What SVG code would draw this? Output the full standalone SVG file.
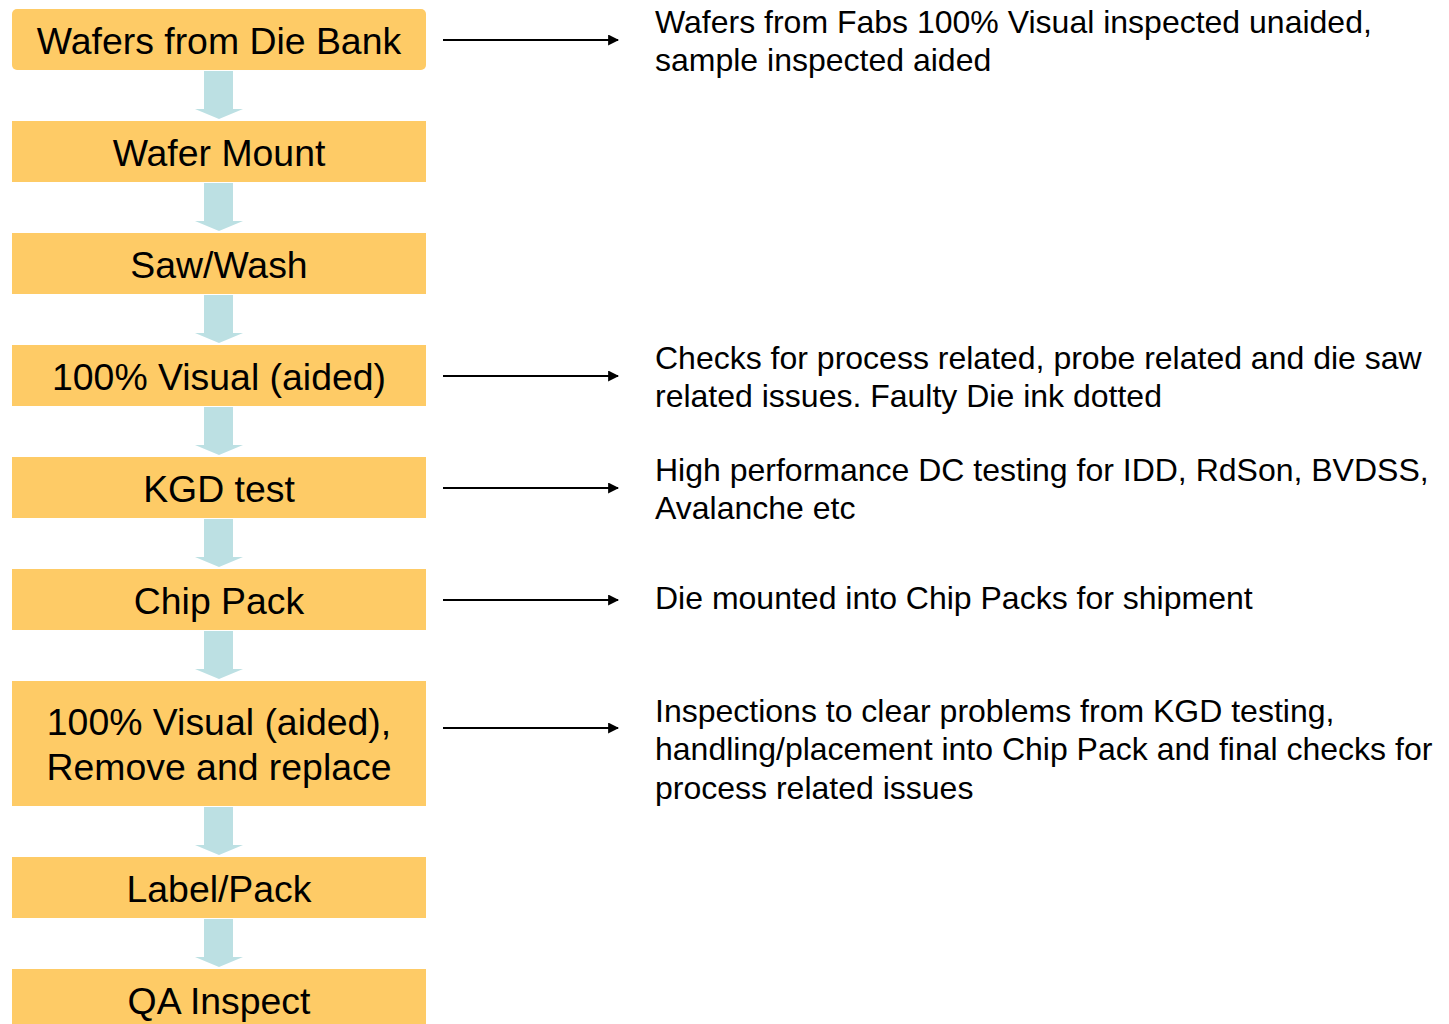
<svg xmlns="http://www.w3.org/2000/svg" width="1449" height="1024" viewBox="0 0 1449 1024">
  <defs>
    <style>
      .step { fill: #fecb66; }
      .step-text { font-family: "Liberation Sans", Arial, sans-serif; font-size: 37.4px; fill: #000; text-anchor: middle; }
      .note { font-family: "Liberation Sans", Arial, sans-serif; font-size: 32px; fill: #000; }
      .flow { fill: #bce0e3; }
      .pointer { stroke: #000; stroke-width: 2; fill: none; marker-end: url(#tip); }
    </style>
    <marker id="tip" viewBox="0 0 10 10" refX="9" refY="5" markerWidth="5.5" markerHeight="5.5" markerUnits="strokeWidth" orient="auto">
      <path d="M0,0 L10,5 L0,10 Z" fill="#000"/>
    </marker>
    <path id="down" d="M204,0 H233 V38 H243 L219,48 L195,38 H204 Z"/>
  </defs>

  <rect width="1449" height="1024" fill="#fff"/>

  <!-- process steps -->
  <g id="step-die-bank">
    <rect class="step" x="12" y="9" width="414" height="61" rx="5"/>
    <text class="step-text" x="219" y="54">Wafers from Die Bank</text>
  </g>
  <g id="step-wafer-mount">
    <rect class="step" x="12" y="121" width="414" height="61"/>
    <text class="step-text" x="219" y="166">Wafer Mount</text>
  </g>
  <g id="step-saw-wash">
    <rect class="step" x="12" y="233" width="414" height="61"/>
    <text class="step-text" x="219" y="278">Saw/Wash</text>
  </g>
  <g id="step-visual">
    <rect class="step" x="12" y="345" width="414" height="61"/>
    <text class="step-text" x="219" y="390">100% Visual (aided)</text>
  </g>
  <g id="step-kgd">
    <rect class="step" x="12" y="457" width="414" height="61"/>
    <text class="step-text" x="219" y="502">KGD test</text>
  </g>
  <g id="step-chip-pack">
    <rect class="step" x="12" y="569" width="414" height="61"/>
    <text class="step-text" x="219" y="614">Chip Pack</text>
  </g>
  <g id="step-visual-replace">
    <rect class="step" x="12" y="681" width="414" height="125"/>
    <text class="step-text" x="219" y="735">100% Visual (aided),</text>
    <text class="step-text" x="219" y="780">Remove and replace</text>
  </g>
  <g id="step-label-pack">
    <rect class="step" x="12" y="857" width="414" height="61"/>
    <text class="step-text" x="219" y="902">Label/Pack</text>
  </g>
  <g id="step-qa">
    <rect class="step" x="12" y="969" width="414" height="61"/>
    <text class="step-text" x="219" y="1014">QA Inspect</text>
  </g>

  <!-- notes -->
  <g id="note-die-bank">
    <text class="note" x="655" y="33">Wafers from Fabs 100% Visual inspected unaided,</text>
    <text class="note" x="655" y="71">sample inspected aided</text>
  </g>
  <g id="note-visual">
    <text class="note" x="655" y="369">Checks for process related, probe related and die saw</text>
    <text class="note" x="655" y="407">related issues. Faulty Die ink dotted</text>
  </g>
  <g id="note-kgd">
    <text class="note" x="655" y="481">High performance DC testing for IDD, RdSon, BVDSS,</text>
    <text class="note" x="655" y="519">Avalanche etc</text>
  </g>
  <g id="note-chip-pack">
    <text class="note" x="655" y="609">Die mounted into Chip Packs for shipment</text>
  </g>
  <g id="note-visual-replace">
    <text class="note" x="655" y="722">Inspections to clear problems from KGD testing,</text>
    <text class="note" x="655" y="760">handling/placement into Chip Pack and final checks for</text>
    <text class="note" x="655" y="799">process related issues</text>
  </g>

  <!-- connectors -->
  <g id="connectors">
    <g class="flow">
      <use href="#down" y="71"/>
      <use href="#down" y="183"/>
      <use href="#down" y="295"/>
      <use href="#down" y="407"/>
      <use href="#down" y="519"/>
      <use href="#down" y="631"/>
      <use href="#down" y="807"/>
      <use href="#down" y="919"/>
    </g>
    <line class="pointer" x1="443" y1="40" x2="618" y2="40"/>
    <line class="pointer" x1="443" y1="376" x2="618" y2="376"/>
    <line class="pointer" x1="443" y1="488" x2="618" y2="488"/>
    <line class="pointer" x1="443" y1="600" x2="618" y2="600"/>
    <line class="pointer" x1="443" y1="728" x2="618" y2="728"/>
  </g>
</svg>
